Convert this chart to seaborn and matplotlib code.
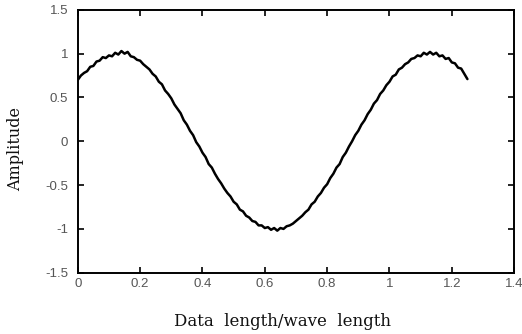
import numpy as np
import pandas as pd
import matplotlib
matplotlib.use("Agg")
import matplotlib.pyplot as plt
import seaborn as sns

# -------------------------
# DATA
# -------------------------
x_vals = [0.00, 0.01, 0.02, 0.03, 0.04, 0.05, 0.06, 0.07, 0.08, 0.09,
          0.10, 0.11, 0.12, 0.13, 0.14, 0.15, 0.16, 0.17, 0.18, 0.19,
          0.20, 0.21, 0.22, 0.23, 0.24, 0.25, 0.26, 0.27, 0.28, 0.29,
          0.30, 0.31, 0.32, 0.33, 0.34, 0.35, 0.36, 0.37, 0.38, 0.39,
          0.40, 0.41, 0.42, 0.43, 0.44, 0.45, 0.46, 0.47, 0.48, 0.49,
          0.50, 0.51, 0.52, 0.53, 0.54, 0.55, 0.56, 0.57, 0.58, 0.59,
          0.60, 0.61, 0.62, 0.63, 0.64, 0.65, 0.66, 0.67, 0.68, 0.69,
          0.70, 0.71, 0.72, 0.73, 0.74, 0.75, 0.76, 0.77, 0.78, 0.79,
          0.80, 0.81, 0.82, 0.83, 0.84, 0.85, 0.86, 0.87, 0.88, 0.89,
          0.90, 0.91, 0.92, 0.93, 0.94, 0.95, 0.96, 0.97, 0.98, 0.99,
          1.00, 1.01, 1.02, 1.03, 1.04, 1.05, 1.06, 1.07, 1.08, 1.09,
          1.10, 1.11, 1.12, 1.13, 1.14, 1.15, 1.16, 1.17, 1.18, 1.19,
          1.20, 1.21, 1.22, 1.23, 1.24, 1.25]

amplitude = [0.70, 0.75, 0.78, 0.80, 0.85, 0.86, 0.91, 0.92, 0.96, 0.95,
             0.98, 0.97, 1.01, 0.99, 1.03, 1.00, 1.02, 0.97, 0.96, 0.93,
             0.92, 0.88, 0.85, 0.82, 0.77, 0.74, 0.68, 0.65, 0.58, 0.54,
             0.49, 0.42, 0.37, 0.32, 0.24, 0.19, 0.12, 0.07, -0.01, -0.06,
             -0.13, -0.18, -0.26, -0.30, -0.37, -0.43, -0.48, -0.54, -0.59, -0.63,
             -0.69, -0.72, -0.78, -0.80, -0.85, -0.87, -0.91, -0.92, -0.96, -0.96,
             -0.99, -0.98, -1.01, -0.99, -1.02, -0.99, -1.00, -0.97, -0.96, -0.94,
             -0.91, -0.88, -0.85, -0.81, -0.78, -0.72, -0.69, -0.63, -0.59, -0.53,
             -0.49, -0.42, -0.37, -0.30, -0.26, -0.18, -0.13, -0.06, 0.00, 0.07,
             0.12, 0.19, 0.24, 0.31, 0.36, 0.43, 0.47, 0.54, 0.58, 0.64,
             0.68, 0.74, 0.76, 0.82, 0.84, 0.88, 0.90, 0.94, 0.95, 0.98,
             0.97, 1.01, 0.99, 1.02, 0.99, 1.01, 0.97, 0.98, 0.94, 0.95,
             0.90, 0.89, 0.84, 0.83, 0.77, 0.71]

x_ticks = [0, 0.2, 0.4, 0.6, 0.8, 1, 1.2, 1.4]
x_tick_labels = ["0", "0.2", "0.4", "0.6", "0.8", "1", "1.2", "1.4"]
y_ticks = [-1.5, -1, -0.5, 0, 0.5, 1, 1.5]
y_tick_labels = ["-1.5", "-1", "-0.5", "0", "0.5", "1", "1.5"]

df = pd.DataFrame({"x": x_vals, "amp": amplitude})

# -------------------------
# PLOT
# -------------------------
sns.set_style("ticks")

fig = plt.figure(figsize=(5.22, 3.34), dpi=100)
ax = fig.add_axes([0.149, 0.1835, 0.836, 0.787])

sns.lineplot(data=df, x="x", y="amp", color="black", linewidth=1.8, ax=ax)

ax.set_xlim(0, 1.4)
ax.set_ylim(-1.5, 1.5)
ax.set_xticks(x_ticks)
ax.set_xticklabels(x_tick_labels)
ax.set_yticks(y_ticks)
ax.set_yticklabels(y_tick_labels)

ax.tick_params(direction="in", length=4, width=1.2, top=True, right=True,
               labelsize=9.5, labelcolor="#555555", colors="black")
ax.tick_params(axis="y", pad=7)
ax.tick_params(axis="x", pad=4)
for lab in ax.get_xticklabels() + ax.get_yticklabels():
    lab.set_family("Liberation Sans")

for sp in ax.spines.values():
    sp.set_visible(True)
    sp.set_linewidth(1.4)
    sp.set_color("black")

ax.set_xlabel("Data  length/wave  length", family="DejaVu Serif",
              fontsize=12, color="#111111")
ax.set_ylabel("Amplitude", family="DejaVu Serif", fontsize=11.5,
              color="#111111")
ax.xaxis.set_label_coords(0.468, -0.152)
ax.yaxis.set_label_coords(-0.122, 0.471)

plt.savefig("out.png", dpi=100)
plt.close()
